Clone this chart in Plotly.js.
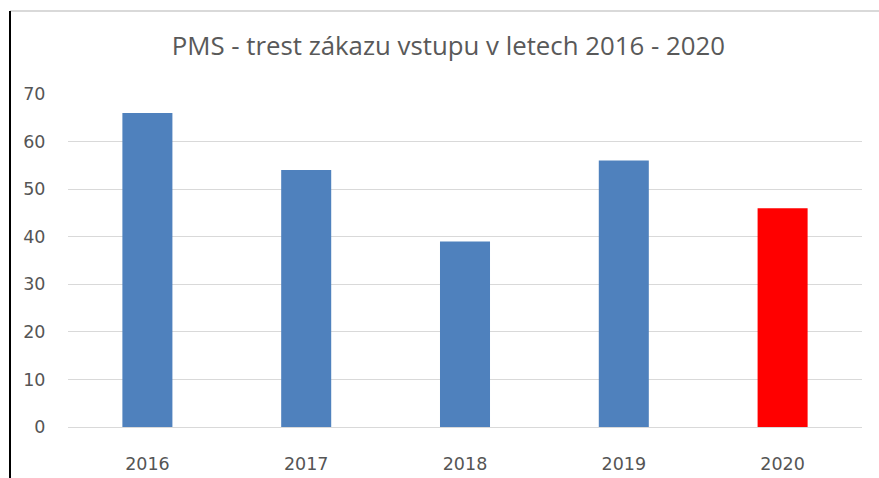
<!DOCTYPE html>
<html><head><meta charset="utf-8">
<script src="https://cdn.plot.ly/plotly-3.0.1.min.js"></script>
<style>body{margin:0;background:#fff}#c{width:879px;height:478px}</style>
</head><body><div id="c"></div>
<script>
const years = ['2016','2017','2018','2019','2020'];
const values = [66, 54, 39, 56, 46];
const barColors = ['#4f81bd','#4f81bd','#4f81bd','#4f81bd','#ff0000'];
const yTicks = [0,10,20,30,40,50,60,70];
const titleText = 'PMS - trest zákazu vstupu v letech 2016 - 2020';

Plotly.newPlot('c', [{
  type:'bar', x: years, y: values,
  marker:{color: barColors, line:{width:0}},
  hoverinfo:'x+y'
}], {
  width:879, height:478,
  margin:{l:68, r:17, t:94, b:51, pad:0},
  paper_bgcolor:'#fff', plot_bgcolor:'#fff',
  bargap:0.685,
  showlegend:false,
  title:{text:titleText, x:0.510, xanchor:'center', y:1-46/478, yanchor:'middle', yref:'container',
    font:{family:'Open Sans, sans-serif', size:25.8, color:'#595959'}},
  xaxis:{type:'category', showgrid:false, zeroline:false, showline:false,
    ticks:'outside', ticklen:21, tickcolor:'rgba(0,0,0,0)',
    tickfont:{family:'DejaVu Sans, sans-serif', size:17.5, color:'#555555'}},
  yaxis:{range:[0,70], tickvals:yTicks, showgrid:true, gridcolor:'#d9d9d9', gridwidth:1,
    zeroline:true, zerolinecolor:'#d9d9d9', zerolinewidth:1, showline:false,
    ticks:'outside', ticklen:18, tickcolor:'rgba(0,0,0,0)',
    tickfont:{family:'DejaVu Sans, sans-serif', size:17.5, color:'#555555'}},
  shapes:[
    {type:'line', xref:'paper', yref:'paper', x0:-58/794, x1:812/794, y0:(427-11)/333, y1:(427-11)/333,
      line:{color:'#d9d9d9', width:2}},
    {type:'line', xref:'paper', yref:'paper', x0:-58/794, x1:-58/794, y0:(427-11)/333, y1:-60/333,
      line:{color:'#000', width:2}}
  ]
}, {displayModeBar:false, staticPlot:true});
</script></body></html>
